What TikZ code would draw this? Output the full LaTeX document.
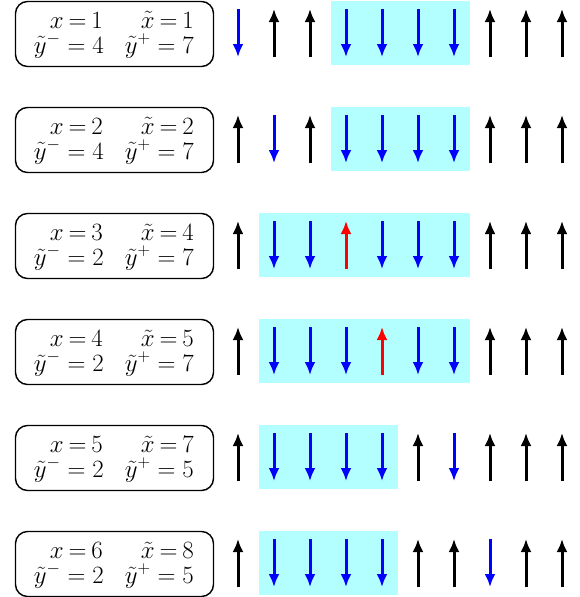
\documentclass[tikz,border=0pt]{standalone}
\usetikzlibrary{arrows.meta}
\definecolor{hlc}{RGB}{179,255,255}
\begin{document}
\begin{tikzpicture}[x=1pt,y=-1pt,
  sup/.style={line width=3pt,black,{Latex[length=13pt,width=11pt]}-},
  sdn/.style={line width=3pt,blue,-{Latex[length=13pt,width=11pt]}},
  sred/.style={line width=3pt,red,{Latex[length=13pt,width=11pt]}-},
  hl/.style={fill=hlc,draw=none},
  infobox/.style={draw,rounded corners=12pt,line width=1.4pt,minimum width=198pt,minimum height=65pt,inner sep=0pt},
  infotext/.style={inner sep=0pt,anchor=base east,font=\fontsize{26}{30}\selectfont}]
\useasboundingbox (0,0) rectangle (580,597);
\newcommand\spinrow[8]{%
  % #1 row, #2/#3 highlighted columns, #4 spins, #5 x, #6 x~, #7 y-, #8 y+
  \pgfmathsetmacro\yc{33+106*(#1-1)}
  \fill[hl] ({238+36*(#2-1)-15},\yc-32) rectangle ({238+36*(#3-1)+16},\yc+32);
  \node[infobox] (b#1) at (114.5,\yc+1) {};
  \node[infotext] (xa#1) at (103,\yc-5) {$\thickmuskip=3.5mu x=#5$};
  \node[infotext] (xb#1) at (194,\yc-5) {$\thickmuskip=3.5mu \tilde x=#6$};
  \node[infotext] (ya#1) at (104,\yc+20) {$\tilde y^-=#7$};
  \node[infotext] (yb#1) at (194,\yc+20) {$\tilde y^+=#8$};
  \foreach \s [count=\i] in {#4} {
    \draw[\s] ({238+36*(\i-1)},\yc-24) -- ({238+36*(\i-1)},\yc+24);
  }
}
\spinrow{1}{4}{7}{sdn,sup,sup,sdn,sdn,sdn,sdn,sup,sup,sup}{1}{1}{4}{7}
\spinrow{2}{4}{7}{sup,sdn,sup,sdn,sdn,sdn,sdn,sup,sup,sup}{2}{2}{4}{7}
\spinrow{3}{2}{7}{sup,sdn,sdn,sred,sdn,sdn,sdn,sup,sup,sup}{3}{4}{2}{7}
\spinrow{4}{2}{7}{sup,sdn,sdn,sdn,sred,sdn,sdn,sup,sup,sup}{4}{5}{2}{7}
\spinrow{5}{2}{5}{sup,sdn,sdn,sdn,sdn,sup,sdn,sup,sup,sup}{5}{7}{2}{5}
\spinrow{6}{2}{5}{sup,sdn,sdn,sdn,sdn,sup,sup,sdn,sup,sup}{6}{8}{2}{5}
\end{tikzpicture}
\end{document}
